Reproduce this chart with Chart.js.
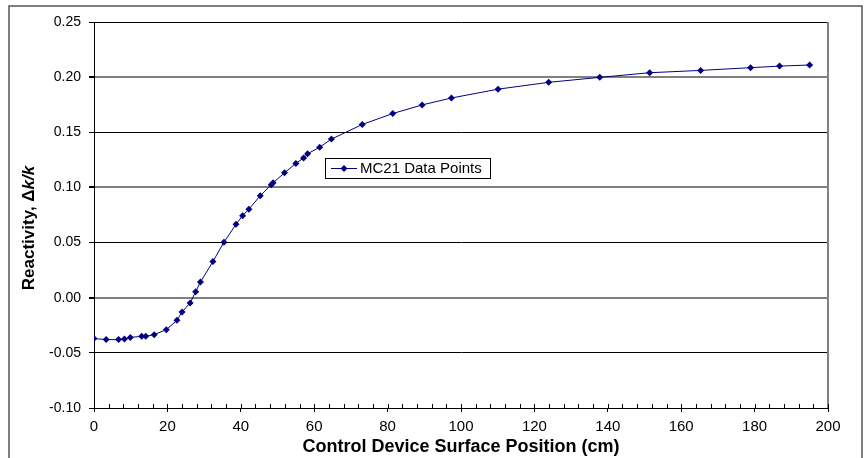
<!DOCTYPE html>
<html>
<head>
<meta charset="utf-8">
<script src="https://cdn.jsdelivr.net/npm/chart.js@4"></script>
<style>
  html, body { margin: 0; padding: 0; background: #fff; }
  #wrap { width: 864px; height: 458px; }
</style>
</head>
<body>
<div id="wrap"><canvas id="chart" width="864" height="458"></canvas></div>
<script>
// control device position (cm) and MC21 reactivity
const positions = [0, 3.3, 6.7, 8.3, 9.9, 13.0, 14.1, 16.4, 19.7, 22.6,
    24.0, 26.2, 27.7, 29.0, 32.4, 35.4, 38.7, 40.5, 42.2, 45.3,
    48.3, 48.8, 51.9, 55.0, 57.1, 58.2, 61.5, 64.7, 73.1, 81.4,
    89.4, 97.4, 110.1, 123.9, 137.8, 151.4, 165.3, 178.9, 186.8, 195.0];
const reactivity = [-0.037, -0.038, -0.038, -0.0374, -0.036, -0.035, -0.035, -0.0335, -0.029, -0.0205,
    -0.0129, -0.0048, 0.0054, 0.0142, 0.0328, 0.0503, 0.0666, 0.0744, 0.0802, 0.0925,
    0.1025, 0.1042, 0.1132, 0.1218, 0.1266, 0.1305, 0.1365, 0.1438, 0.1571, 0.1670,
    0.1748, 0.1811, 0.1891, 0.1953, 0.1998, 0.2040, 0.2061, 0.2086, 0.2100, 0.2110];
const seriesName = 'MC21 Data Points';
const xTickLabels = ['0', '20', '40', '60', '80', '100', '120', '140', '160', '180', '200'];
const yTickLabels = ['-0.10', '-0.05', '0.00', '0.05', '0.10', '0.15', '0.20', '0.25'];

const FONT = "'Liberation Sans', Arial, sans-serif";
const NAVY = '#000080';

// frame, minor ticks, y title and legend box
const extras = {
    id: 'extras',
    afterDraw(chart) {
        const ctx = chart.ctx;
        const area = chart.chartArea;
        const xs = chart.scales.x;
        ctx.save();

        // outer frame
        ctx.strokeStyle = '#555';
        ctx.lineWidth = 1.5;
        ctx.strokeRect(9, 6, 853, 500);

        // right border of plot
        ctx.strokeStyle = '#808080';
        ctx.lineWidth = 2;
        ctx.beginPath();
        ctx.moveTo(area.right, area.top);
        ctx.lineTo(area.right, area.bottom);
        ctx.stroke();

        // small ticks on the x axis, inside the plot
        ctx.strokeStyle = '#000';
        ctx.lineWidth = 1;
        ctx.beginPath();
        for (let v = 0; v <= 200; v += 4) {
            const px = Math.round(xs.getPixelForValue(v)) + 0.5;
            ctx.moveTo(px, area.bottom);
            ctx.lineTo(px, area.bottom - 4);
        }
        ctx.stroke();

        // y title with italic k
        ctx.translate(29, 228);
        ctx.rotate(-Math.PI / 2);
        ctx.fillStyle = '#000';
        ctx.textBaseline = 'middle';
        const parts = [['Reactivity, \u0394', 'bold 17px ' + FONT], ['k/k', 'italic bold 17px ' + FONT]];
        let total = 0;
        parts.forEach(p => { ctx.font = p[1]; total += ctx.measureText(p[0]).width; });
        let x = -total / 2;
        parts.forEach(p => {
            ctx.font = p[1];
            ctx.fillText(p[0], x, 0);
            x += ctx.measureText(p[0]).width;
        });
        ctx.restore();

        // legend
        ctx.save();
        ctx.fillStyle = '#fff';
        ctx.fillRect(325.5, 158.5, 165, 20);
        ctx.strokeStyle = '#000';
        ctx.lineWidth = 1;
        ctx.strokeRect(325.5, 158.5, 165, 20);
        ctx.strokeStyle = NAVY;
        ctx.beginPath();
        ctx.moveTo(331, 168.5);
        ctx.lineTo(357, 168.5);
        ctx.stroke();
        ctx.fillStyle = NAVY;
        ctx.beginPath();
        ctx.moveTo(344, 165);
        ctx.lineTo(347.5, 168.5);
        ctx.lineTo(344, 172);
        ctx.lineTo(340.5, 168.5);
        ctx.closePath();
        ctx.fill();
        ctx.fillStyle = '#000';
        ctx.font = '15px ' + FONT;
        ctx.textBaseline = 'middle';
        ctx.fillText(seriesName, 360, 169);
        ctx.restore();
    }
};

new Chart(document.getElementById('chart'), {
    type: 'line',
    data: {
        datasets: [{
            label: seriesName,
            data: positions.map((p, i) => ({ x: p, y: reactivity[i] })),
            borderColor: NAVY,
            backgroundColor: NAVY,
            borderWidth: 1,
            pointStyle: 'rectRot',
            pointRadius: 3.5,
            pointBorderWidth: 0,
            tension: 0
        }]
    },
    options: {
        responsive: false,
        animation: false,
        layout: { padding: { top: 22, right: 36, left: 0, bottom: 0 } },
        plugins: {
            legend: { display: false },
            tooltip: { enabled: false }
        },
        scales: {
            x: {
                type: 'linear',
                min: 0,
                max: 200,
                afterFit: s => { s.height = 50; },
                border: { color: '#000', width: 1 },
                grid: { drawOnChartArea: false, tickLength: 4, color: '#000' },
                ticks: {
                    stepSize: 20,
                    padding: 6,
                    color: '#000',
                    font: { family: FONT, size: 15 },
                    maxRotation: 0,
                    callback: (v, i) => xTickLabels[i]
                },
                title: {
                    display: true,
                    text: 'Control Device Surface Position (cm)',
                    color: '#000',
                    font: { family: FONT, size: 18, weight: 'bold' },
                    padding: { top: 0, bottom: 0 }
                }
            },
            y: {
                min: -0.1,
                max: 0.25,
                afterFit: s => { s.width = 94; },
                border: { color: '#000', width: 1 },
                grid: {
                    tickLength: 5,
                    tickColor: '#000',
                    color: c => (c.index % 2 === 0 && c.index !== 0) ? '#808080' : '#000',
                    lineWidth: c => (c.index % 2 === 0 && c.index !== 0) ? 2 : 1
                },
                ticks: {
                    stepSize: 0.05,
                    padding: 8,
                    color: '#000',
                    font: { family: FONT, size: 14 },
                    callback: (v, i) => yTickLabels[i]
                }
            }
        }
    },
    plugins: [extras]
});
</script>
</body>
</html>
